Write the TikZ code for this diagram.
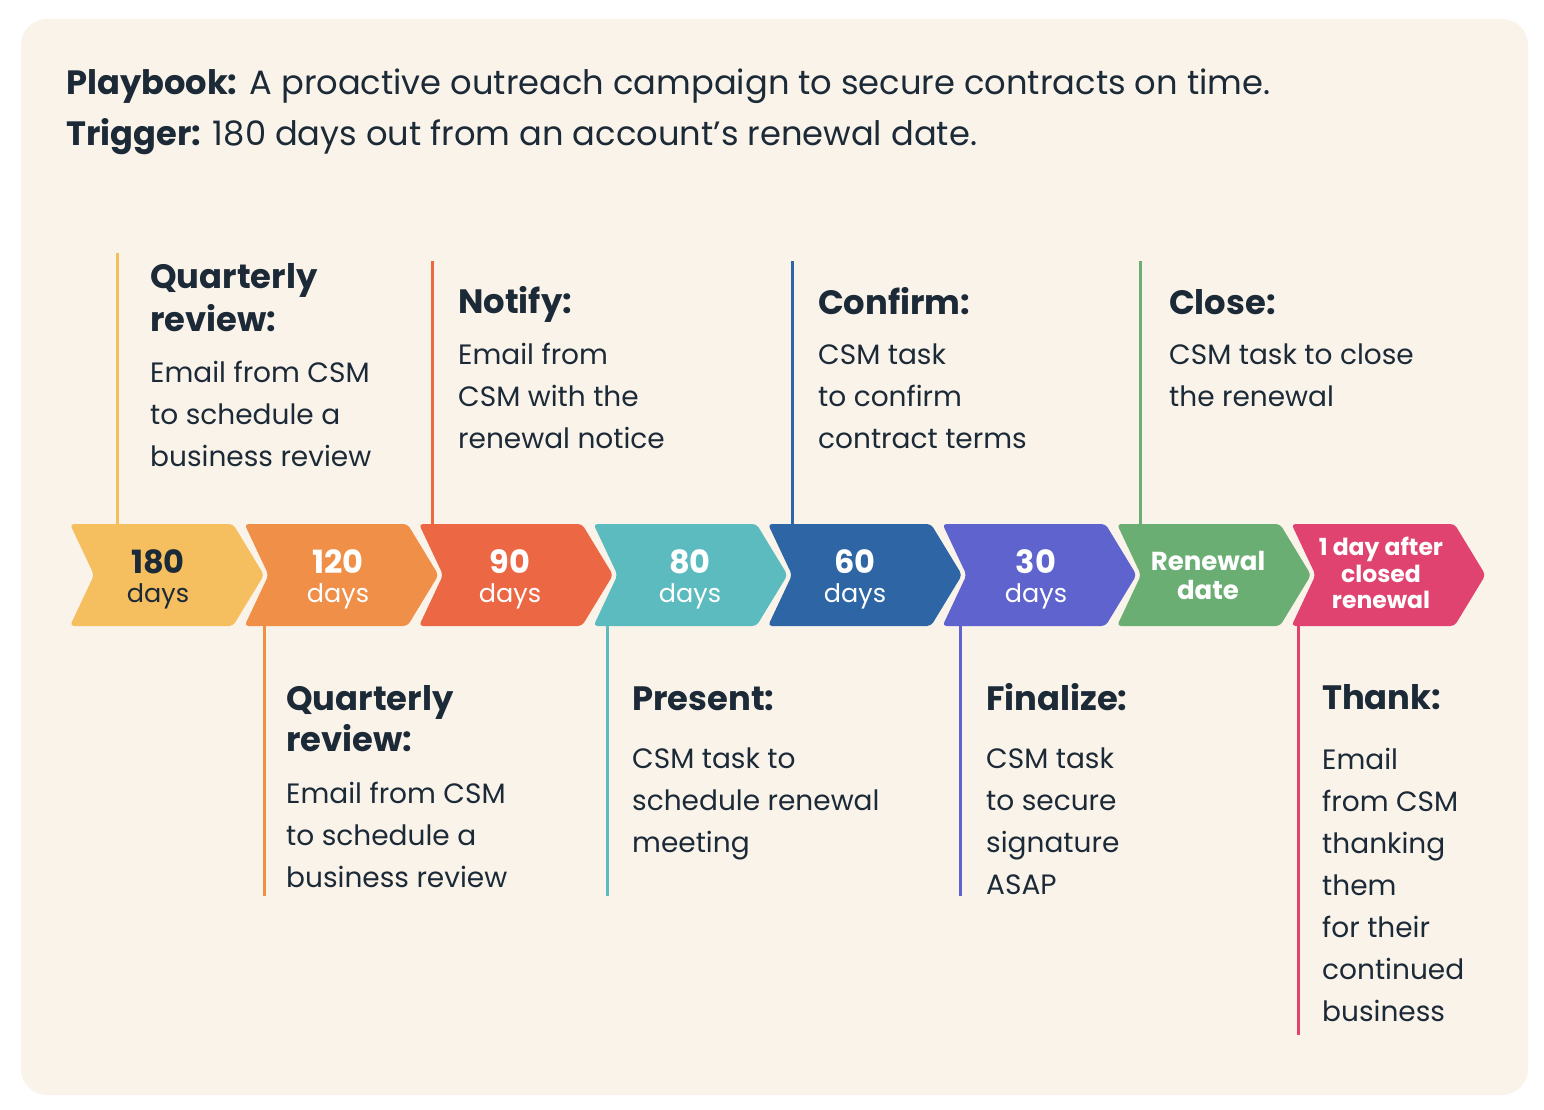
\documentclass[tikz,border=0pt]{standalone}
\usepackage{fontspec}
\setmainfont{Poppins}
\definecolor{ink}{HTML}{1C2A38}
\definecolor{panel}{HTML}{FAF3EA}
\definecolor{cyel}{HTML}{F5BE5F}
\definecolor{corg}{HTML}{F08F48}
\definecolor{cred}{HTML}{EC6845}
\definecolor{cteal}{HTML}{5BBBBF}
\definecolor{cblue}{HTML}{2D65A5}
\definecolor{cpurp}{HTML}{5E63CD}
\definecolor{cgreen}{HTML}{6BAE73}
\definecolor{cpink}{HTML}{E0436F}
\tikzset{
  hd/.style={anchor=base west, inner sep=0pt, font=\fontsize{33.8}{40}\selectfont\bfseries, text=ink},
  bd/.style={anchor=base west, inner sep=0pt, font=\fontsize{28}{40}\selectfont, text=ink},
  num/.style={anchor=base, inner sep=0pt, font=\fontsize{32}{36}\selectfont\bfseries, text=white},
  unit/.style={anchor=base, inner sep=0pt, font=\fontsize{25.5}{30}\selectfont, text=white},
  lbl/.style={anchor=base, inner sep=0pt, font=\fontsize{26}{30}\selectfont\bfseries, text=white},
  sml/.style={anchor=base, inner sep=0pt, font=\fontsize{23.5}{26}\selectfont\bfseries, text=white},
  ttl/.style={anchor=base west, inner sep=0pt, font=\fontsize{33.7}{40}\selectfont, text=ink},
  tick/.style={line width=3pt},
}
\newcommand\chev[3]{%
  \fill[#3, rounded corners=4pt] (#2,524) -- ++(163,0) -- ++(31,51) -- ++(-31,51) -- ++(-163,0) -- ++(24,-51) -- cycle;
  \coordinate (#1) at (#2+97,575);
}
\begin{document}
\begin{tikzpicture}[x=1pt,y=-1pt]
\useasboundingbox (0,0) rectangle (1544,1110);
\fill[white] (0,0) rectangle (1544,1110);
\fill[panel, rounded corners=26pt] (21,19) rectangle (1528,1095);

% title
\node[ttl] (title1) at (66,95) {\textbf{Playbook:} A proactive outreach campaign to secure contracts on time.};
\node[ttl] (title2) at (66,146) {\textbf{Trigger:} 180 days out from an account’s renewal date.};

% chevrons
\chev{k1}{70}{cyel}
\chev{k2}{244.5}{corg}
\chev{k3}{419}{cred}
\chev{k4}{593.5}{cteal}
\chev{k5}{768}{cblue}
\chev{k6}{942.5}{cpurp}
\chev{k7}{1117}{cgreen}
\chev{k8}{1291.5}{cpink}

\node[num, text=ink] (n1) at (158,573) {180};
\node[unit, text=ink] (u1) at (158,602) {days};
\node[num] (n2) at (338,573) {120};
\node[unit] (u2) at (338,602) {days};
\node[num] (n3) at (510,573) {90};
\node[unit] (u3) at (510,602) {days};
\node[num] (n4) at (690,573) {80};
\node[unit] (u4) at (690,602) {days};
\node[num] (n5) at (855,573) {60};
\node[unit] (u5) at (855,602) {days};
\node[num] (n6) at (1036,573) {30};
\node[unit] (u6) at (1036,602) {days};
\node[lbl] (r7a) at (1208,570) {Renewal};
\node[lbl] (r7b) at (1208,599) {date};
\node[sml] (r8a) at (1381,555) {1 day after};
\node[sml] (r8b) at (1381,582) {closed};
\node[sml] (r8c) at (1381,608) {renewal};

% ticks
\coordinate (t1a) at (117,524); \coordinate (t1b) at (117,253);
\coordinate (t3a) at (432,524); \coordinate (t3b) at (432,261);
\coordinate (t5a) at (792,524); \coordinate (t5b) at (792,261);
\coordinate (t7a) at (1140,524); \coordinate (t7b) at (1140,261);
\coordinate (t2a) at (264,626); \coordinate (t2b) at (264,896);
\coordinate (t4a) at (607,626); \coordinate (t4b) at (607,896);
\coordinate (t6a) at (960,626); \coordinate (t6b) at (960,896);
\coordinate (t8a) at (1298,626); \coordinate (t8b) at (1298,1035);
\draw[tick, cyel] (t1a) -- (t1b);
\draw[tick, cred] (t3a) -- (t3b);
\draw[tick, cblue] (t5a) -- (t5b);
\draw[tick, cgreen] (t7a) -- (t7b);
\draw[tick, corg] (t2a) -- (t2b);
\draw[tick, cteal] (t4a) -- (t4b);
\draw[tick, cpurp] (t6a) -- (t6b);
\draw[tick, cpink] (t8a) -- (t8b);

% top blocks
\node[hd] (h1a) at (150,288) {Quarterly};
\node[hd] (h1b) at (150,331) {review:};
\foreach \t/\y [count=\i] in {Email from CSM/382, to schedule a/424, business review/466}
  \node[bd] (b1-\i) at (150,\y) {\t};

\node[hd] (h3) at (458,313) {Notify:};
\foreach \t/\y [count=\i] in {Email from/364, CSM with the/406, renewal notice/448}
  \node[bd] (b3-\i) at (458,\y) {\t};

\node[hd] (h5) at (818,314) {Confirm:};
\foreach \t/\y [count=\i] in {CSM task/364, to confirm/406, contract terms/448}
  \node[bd] (b5-\i) at (818,\y) {\t};

\node[hd] (h7) at (1169,314) {Close:};
\foreach \t/\y [count=\i] in {CSM task to close/364, the renewal/406}
  \node[bd] (b7-\i) at (1169,\y) {\t};

% bottom blocks
\node[hd] (h2a) at (286,710) {Quarterly};
\node[hd] (h2b) at (286,751) {review:};
\foreach \t/\y [count=\i] in {Email from CSM/803, to schedule a/845, business review/887}
  \node[bd] (b2-\i) at (286,\y) {\t};

\node[hd] (h4) at (632,710) {Present:};
\foreach \t/\y [count=\i] in {CSM task to/768, schedule renewal/810, meeting/852}
  \node[bd] (b4-\i) at (632,\y) {\t};

\node[hd] (h6) at (986,710) {Finalize:};
\foreach \t/\y [count=\i] in {CSM task/768, to secure/810, signature/852, ASAP/894}
  \node[bd] (b6-\i) at (986,\y) {\t};

\node[hd] (h8) at (1322,709) {Thank:};
\foreach \t/\y [count=\i] in {Email/769, from CSM/811, thanking/853, them/895, for their/937, continued/979, business/1021}
  \node[bd] (b8-\i) at (1322,\y) {\t};
\end{tikzpicture}
\end{document}
